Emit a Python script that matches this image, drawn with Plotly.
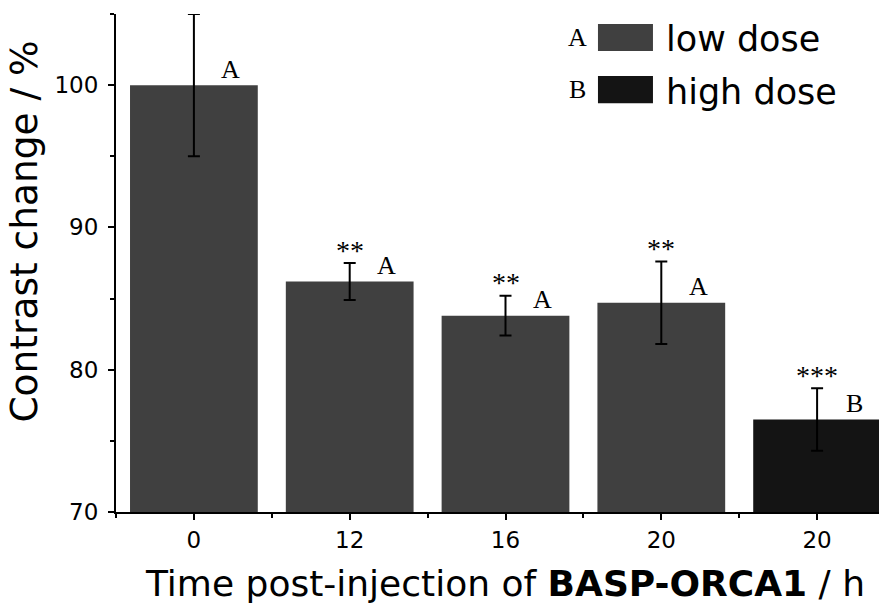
import plotly.graph_objects as go

# bar data
positions = [0, 1, 2, 3, 4]
tick_labels = ["0", "12", "16", "20", "20"]
contrast = [100.0, 86.2, 83.8, 84.7, 76.5]
errors = [5.0, 1.3, 1.4, 2.9, 2.2]
dose = ["low", "low", "low", "low", "high"]
stars = ["", "**", "**", "**", "***"]
groups = ["A", "A", "A", "A", "B"]

low_color = "#404040"
high_color = "#141414"
sans = "DejaVu Sans"
serif = "Liberation Serif"

fig = go.Figure()
fig.add_trace(go.Bar(
    x=positions,
    y=contrast,
    base=0,
    width=0.82,
    marker=dict(color=[low_color if d == "low" else high_color for d in dose], line=dict(width=0)),
    error_y=dict(type="data", array=errors, visible=True, color="black", thickness=2, width=6),
    showlegend=False,
))

# significance stars and group letters
for xi, yi, ei, s, g in zip(positions, contrast, errors, stars, groups):
    if s:
        fig.add_annotation(x=xi, y=yi + ei, text=s, showarrow=False, yanchor="middle",
                           yshift=13, font=dict(family=serif, size=28, color="black"))
    fig.add_annotation(x=xi, y=yi, text=g, showarrow=False, yanchor="middle",
                       xshift=37, yshift=16, font=dict(family=serif, size=26, color="black"))

# hand-made legend (wide swatches)
legend_rows = [("A", "low dose", low_color, 0.9257, 0.98), ("B", "high dose", high_color, 0.821, 0.8755)]
for letter, label, col, y0, y1 in legend_rows:
    fig.add_shape(type="rect", xref="paper", yref="paper", x0=0.6187, x1=0.6893, y0=y0, y1=y1,
                  fillcolor=col, line=dict(width=0))
    ym = (y0 + y1) / 2
    fig.add_annotation(xref="paper", yref="paper", x=0.5918, y=ym, text=letter, showarrow=False,
                       xanchor="center", yanchor="middle", font=dict(family=serif, size=26, color="black"))
    fig.add_annotation(xref="paper", yref="paper", x=0.7035, y=ym, text=label, showarrow=False,
                       xanchor="left", yanchor="middle", yshift=-2,
                       font=dict(family=sans, size=35, color="black"))

# y title sits above the plot's middle in the original, so it is an annotation
fig.add_annotation(xref="paper", yref="paper", x=-0.1175, y=0.564, text="Contrast change / %",
                   textangle=-90, showarrow=False, xanchor="center", yanchor="middle",
                   font=dict(family=sans, size=37.5, color="black"))

fig.update_xaxes(
    range=[-0.5, 4.5],
    tickmode="array", tickvals=positions, ticktext=tick_labels,
    ticks="outside", ticklen=6, tickwidth=2, tickcolor="black",
    minor=dict(tickmode="linear", tick0=0.5, dtick=1, ticks="outside", ticklen=4, tickwidth=2, tickcolor="black"),
    showline=True, linecolor="black", linewidth=2, showgrid=False, zeroline=False,
    tickfont=dict(family=sans, size=23, color="black"),
    title=dict(text="Time post-injection of <b>BASP-ORCA1</b> / h", standoff=19,
               font=dict(family=sans, size=36, color="black")),
)
fig.update_yaxes(
    range=[70, 105],
    tickvals=[70, 80, 90, 100],
    ticks="outside", ticklen=6, tickwidth=2, tickcolor="black", ticklabelstandoff=5,
    minor=dict(dtick=5, ticks="outside", ticklen=4, tickwidth=2, tickcolor="black"),
    showline=True, linecolor="black", linewidth=2, showgrid=False, zeroline=False,
    tickfont=dict(family=sans, size=23, color="black"),
)
fig.update_layout(
    width=887, height=607,
    margin=dict(l=108, r=0, t=6, b=103),
    plot_bgcolor="white", paper_bgcolor="white",
    bargap=0.18,
)

fig.write_html("out.html")
